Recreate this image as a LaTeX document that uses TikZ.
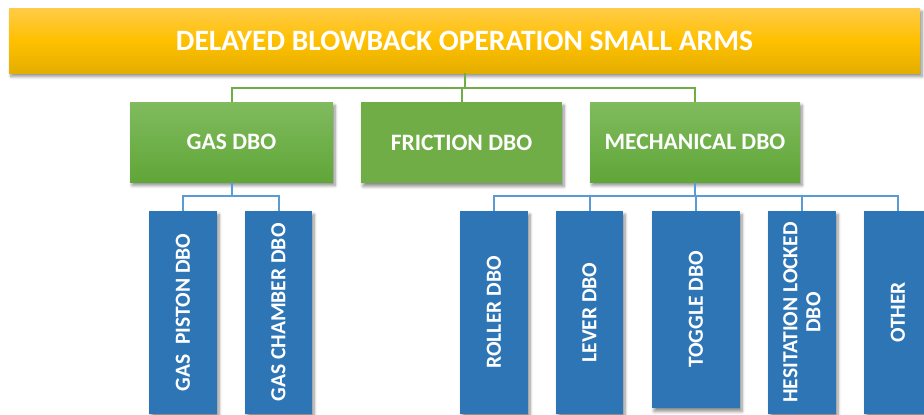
\documentclass[tikz,border=0pt]{standalone}
\usepackage{fontspec}
\setmainfont{Carlito}
\usetikzlibrary{shadows.blur}
\definecolor{goldT}{HTML}{FFCB48}
\definecolor{goldM}{HTML}{FFC000}
\definecolor{goldB}{HTML}{E4AE00}
\definecolor{grnT}{HTML}{80BB5E}
\definecolor{grnB}{HTML}{60A638}
\definecolor{grnF}{HTML}{70AD47}
\definecolor{blu}{HTML}{2E75B6}
\definecolor{bluline}{HTML}{5B9BD5}
\tikzset{
  shad/.style={blur shadow={shadow xshift=2pt, shadow yshift=-3.5pt, shadow blur steps=6, shadow blur radius=3pt, shadow opacity=45}},
  topbox/.style={shad, top color=goldT, bottom color=goldB, middle color=goldM, draw=none,
    minimum width=911pt, minimum height=65pt, inner sep=0pt,
    text=white, font=\bfseries\fontsize{29.5}{33}\selectfont},
  gbox/.style={shad, top color=grnT, bottom color=grnB, draw=none,
    minimum height=80pt, inner sep=0pt, text=white, font=\bfseries\fontsize{23.5}{27}\selectfont},
  fbox/.style={shad, fill=grnF, draw=none,
    minimum height=81pt, inner sep=0pt, text=white, font=\bfseries\fontsize{23.5}{27}\selectfont},
  bbox/.style={shad, fill=blu, draw=none, inner sep=0pt, rotate=90, text=white,
    align=center, font=\bfseries\fontsize{21.5}{23}\selectfont},
  gline/.style={draw=grnF, line width=2pt},
  bline/.style={draw=bluline, line width=2pt},
}
\begin{document}
\begin{tikzpicture}[x=1pt,y=-1pt]
\useasboundingbox (0,0) rectangle (924,415);
\node[topbox] (top) at (464.5,40.5) {DELAYED BLOWBACK OPERATION SMALL ARMS};
\node[gbox, minimum width=203pt] (gas) at (231.5,142) {GAS DBO};
\node[fbox, minimum width=201pt] (fri) at (461.5,142.5) {FRICTION DBO};
\node[gbox, minimum width=210pt] (mech) at (695,142) {MECHANICAL DBO};

\node[bbox, minimum width=203pt, minimum height=68pt] (gp) at (183,312.5) {GAS\ \ PISTON DBO};
\node[bbox, minimum width=203pt, minimum height=67pt] (gc) at (278.5,312.5) {GAS CHAMBER DBO};
\node[bbox, minimum width=203pt, minimum height=68pt] (rol) at (494,312.5) {ROLLER DBO};
\node[bbox, minimum width=203pt, minimum height=67pt] (lev) at (589.5,312.5) {LEVER DBO};
\node[bbox, minimum width=197pt, minimum height=88pt] (tog) at (696,309.5) {TOGGLE DBO};
\node[bbox, minimum width=203pt, minimum height=68pt] (hes) at (802,312.5) {HESITATION LOCKED\\DBO};
\node[bbox, minimum width=203pt, minimum height=68pt] (oth) at (898,312.5) {OTHER};

\draw[gline] (top.south) -- ++(0,15) coordinate (gj);
\draw[gline] (gas.north) |- (gj) -| (mech.north);
\draw[gline] (gj) -- (gj -| fri.north) -- (fri.north);
\draw[bline] (gas.south) -- ++(0,14) coordinate (bj1);
\draw[bline] (gp.east) |- (bj1) -| (gc.east);
\draw[bline] (mech.south) -- ++(0,14) coordinate (bj2);
\draw[bline] (rol.east) |- (bj2) -| (oth.east);
\draw[bline] (lev.east) -- (lev.east |- bj2);
\draw[bline] (tog.east) -- (tog.east |- bj2);
\draw[bline] (hes.east) -- (hes.east |- bj2);
\end{tikzpicture}
\end{document}
